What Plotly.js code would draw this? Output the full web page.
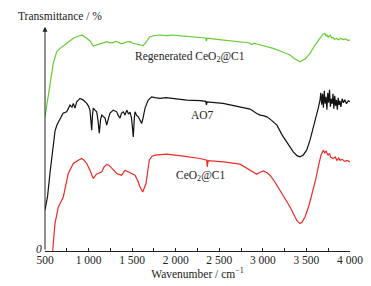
<!DOCTYPE html>
<html><head><meta charset="utf-8">
<script src="https://cdn.plot.ly/plotly-3.0.1.min.js"></script>
<style>html,body{margin:0;padding:0;background:#fff}#c{width:371px;height:286px}</style>
</head><body><div id="c"></div>
<script>
// Regenerated CeO2@C1 (green)
const greenX = [500,557,595,634,672,749,825,902,925,979,1016,1054,1091,1131,1170,1208,1245,1280,1310,1338,1365,1395,1430,1475,1510,1552,1590,1628,1659,1705,1762,1820,1900,1969,2060,2164,2279,2345,2352,2360,2450,2543,2640,2738,2853,2870,2900,2930,3025,3120,3197,3260,3312,3369,3426,3484,3541,3598,3656,3690,3713,3725,3736,3750,3771,3790,3805,3820,3848,3870,3890,3920,3950,3975,4000];
const greenY = [134,164,187.4,199,202.4,207.4,212.4,215.2,215.7,212.4,209.7,204.7,205.7,206.7,208.5,209,207.8,208,209.3,208.7,207.2,207.4,208.7,209,207.5,206.7,206.2,205.2,208.7,214,215.2,215.7,215,215.7,214.8,214,213.2,212.7,209.5,212.5,211.6,210.7,209.8,209,207.7,206,207.5,206.7,204.7,202.4,199.7,197.2,195.7,191.7,189,191.7,197.4,205.7,212.4,216.5,217.4,214.8,215.7,213.5,215.7,212.8,213.2,211.5,212.4,210.8,212.6,211.2,211.8,210.4,210.7];

// AO7 (black)
const blackX = [500,530,557,580,595,615,638,672,707,749,764,787,810,825,844,864,902,940,979,999,1016,1028,1036,1045,1054,1074,1093,1108,1123,1137,1151,1189,1208,1229,1246,1284,1323,1338,1361,1378,1399,1418,1438,1458,1475,1493,1513,1525,1533,1550,1571,1590,1610,1625,1648,1685,1724,1762,1820,1889,1972,2126,2279,2345,2352,2360,2543,2738,2853,2930,2968,3003,3046,3084,3161,3222,3274,3349,3392,3426,3461,3503,3541,3579,3610,3636,3656,3665,3675,3685,3695,3705,3715,3725,3735,3745,3755,3765,3775,3785,3795,3805,3815,3825,3835,3845,3855,3865,3875,3885,3895,3910,3925,3940,3960,3980,4000];
const blackY = [40.7,55,77.7,95,107.7,120,126,132,137.7,139,141.7,145.7,143.7,147.4,142.7,149,152.4,150.7,147.4,144.7,140.7,130.7,120.7,135.7,142.7,140.7,139,130.7,117.7,130.7,135.7,132.7,125.7,132.7,137.7,140.7,139,135.7,132.7,137.7,139,135.7,140.7,136.7,138.7,132.7,114,132.7,139,135.7,134,130.7,127.4,132.7,142.7,150.7,154,153.2,152.4,153.2,152.4,150.7,150.2,149.5,146,149,147.4,144,141.7,137.4,135.7,135.2,134,131.7,125.7,115.7,109,99,95.2,94,95.7,100.7,110.7,122.7,134.7,142.7,150.7,158,146,157,143,160,147,154,141,158,148,161,144,152,147,157,142,155,145,151,141,153,146,150,144,152,148,151,147,150,149];

// CeO2@C1 (red)
const redX = [588,615,653,710,767,825,882,921,948,979,1016,1054,1074,1091,1112,1151,1177,1208,1234,1265,1323,1350,1380,1418,1445,1475,1505,1533,1567,1590,1621,1659,1697,1728,1762,1830,1896,2087,2279,2356,2362,2372,2546,2738,2853,2930,2968,3006,3048,3082,3140,3197,3254,3312,3388,3426,3449,3484,3530,3579,3610,3636,3667,3694,3710,3725,3748,3765,3780,3808,3830,3850,3870,3885,3910,3940,3970,4000];
const redY = [0,27.7,44,54,77.4,87.4,90.7,92.4,90.7,87.4,80.7,72.4,74.7,76.7,77.4,79,83.7,86.4,85.7,82.4,77.4,76.5,75.7,80.7,79.5,79,77.5,75.7,69.7,64,59,67.4,90.7,94.7,95.7,96.2,96.7,94.7,92.4,90.7,84,90.2,89,86.7,80.7,76.7,78.7,80,78.2,75.7,68.7,60.7,52.7,44,30.7,27.4,28.7,34,45.7,60.7,72.7,84,95.7,100.7,98,99.7,95.7,97.5,93.5,92.4,94,90.5,92.8,90.7,91.5,89.5,90.5,89];

const xTicks = [500,750,1000,1250,1500,1750,2000,2250,2500,2750,3000,3250,3500,3750,4000];
const xTickText = ["500","","1 000","","1 500","","2 000","","2 500","","3 000","","3 500","","4 000"];

const serif = "Liberation Serif";
const lw = 1.2;
const traces = [
  {x: greenX, y: greenY, mode: 'lines', line: {color: '#66cc33', width: lw}, cliponaxis: false},
  {x: blackX, y: blackY, mode: 'lines', line: {color: '#111111', width: lw}, cliponaxis: false},
  {x: redX, y: redY, mode: 'lines', line: {color: '#ee2a24', width: lw}, cliponaxis: false}
];
const txt = {family: serif, size: 11.5, color: '#222'};
const layout = {
  width: 371, height: 286,
  margin: {l: 45, r: 21, t: 25, b: 35.3},
  paper_bgcolor: '#fff', plot_bgcolor: '#fff',
  showlegend: false,
  font: txt,
  xaxis: {
    range: [500, 4000], showgrid: false, zeroline: false,
    showline: true, linecolor: '#222', linewidth: 1,
    ticks: 'inside', ticklen: 3, tickcolor: '#222', tickwidth: 1,
    tickvals: xTicks, ticktext: xTickText, ticklabelstandoff: -2,
    tickfont: txt,
    title: {text: 'Wavenumber / cm<sup>−1</sup>', font: txt, standoff: 4}
  },
  yaxis: {
    range: [0, 225.7], showgrid: false, zeroline: false, showline: false,
    showticklabels: false, ticks: ''
  },
  annotations: [
    {x: 500, y: 224, ax: 500, ay: 0, xref: 'x', yref: 'y', axref: 'x', ayref: 'y',
     showarrow: true, arrowhead: 2, arrowsize: 1, arrowwidth: 1, arrowcolor: '#222', text: ''},
    {x: 60, y: 16.5, xref: 'paper', yref: 'paper', text: 'Transmittance / %', showarrow: false,
     xanchor: 'center', yanchor: 'middle', font: txt},
    {x: 2164, y: 193.7, xref: 'x', yref: 'y', text: 'Regenerated CeO<sub>2</sub>@C1', showarrow: false,
     xanchor: 'center', yanchor: 'middle', font: txt},
    {x: 2313, y: 135.7, xref: 'x', yref: 'y', text: 'AO7', showarrow: false,
     xanchor: 'center', yanchor: 'middle', font: txt},
    {x: 2285, y: 74.7, xref: 'x', yref: 'y', text: 'CeO<sub>2</sub>@C1', showarrow: false,
     xanchor: 'center', yanchor: 'middle', font: txt},
    {x: 38.5, y: 249, xref: 'paper', yref: 'paper', text: '<i>0</i>', showarrow: false,
     xanchor: 'center', yanchor: 'middle', font: txt}
  ]
};
layout.annotations.forEach(a => {
  if (a.xref === 'paper') {
    a.x = (a.x - layout.margin.l) / (371 - layout.margin.l - layout.margin.r);
    a.y = (286 - layout.margin.b - a.y) / (286 - layout.margin.t - layout.margin.b);
  }
});
Plotly.newPlot('c', traces, layout, {staticPlot: true, displayModeBar: false});
</script></body></html>
